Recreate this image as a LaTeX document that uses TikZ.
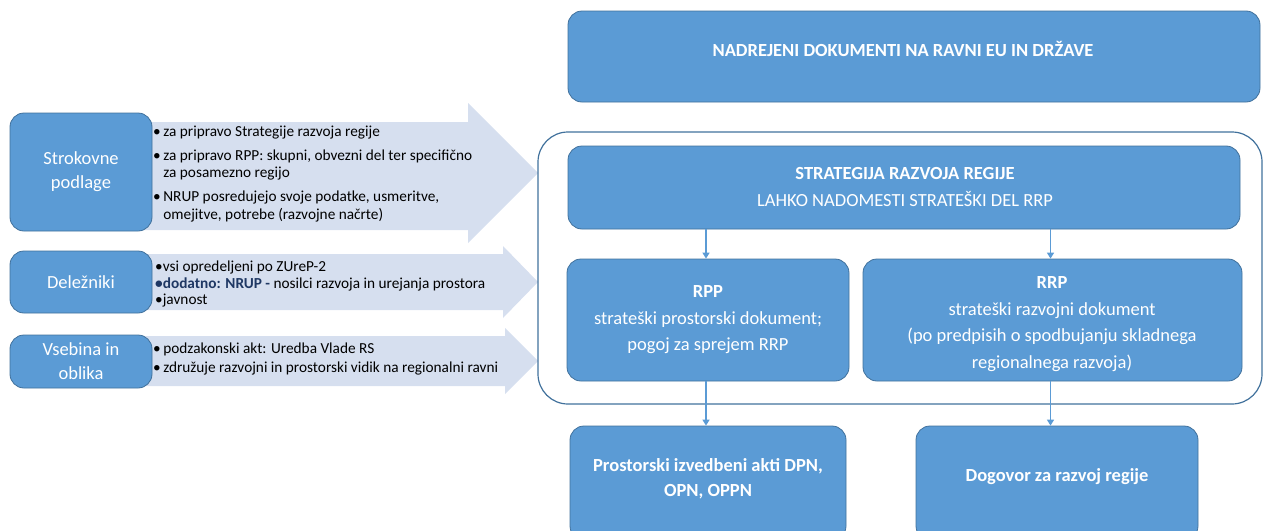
\documentclass[tikz,border=0pt]{standalone}
\usepackage{fontspec}
\setmainfont{Carlito}
\usetikzlibrary{arrows.meta}
\definecolor{boxblue}{HTML}{5B9BD5}
\definecolor{boxline}{HTML}{41719C}
\definecolor{arrowfill}{HTML}{D6DFEF}
\definecolor{navy}{HTML}{1F3864}
\begin{document}
\begin{tikzpicture}[x=1pt,y=-1pt,
  bluebox/.style={draw=boxline, fill=boxblue, line width=0.8pt, rounded corners=14pt, inner sep=0pt},
  sidebox/.style={draw=boxline, fill=boxblue, line width=0.8pt, rounded corners=14pt, inner sep=0pt, minimum width=142pt, text=white, align=center, font=\fontsize{18.5}{24}\selectfont},
  boxtext/.style={text=white, align=center, inner sep=0pt, font=\fontsize{18.5}{26.5}\selectfont},
  boldtext/.style={boxtext, font=\fontsize{18.5}{25}\selectfont\bfseries},
  bigarrow/.style={fill=arrowfill},
  arrowtext/.style={anchor=west, align=left, inner sep=0pt, font=\fontsize{15.3}{17.5}\selectfont},
  conn/.style={draw=boxblue, line width=1.5pt, -{Triangle[width=7pt,length=6pt]}},
  frame/.style={draw=boxline, line width=1.2pt, rounded corners=30pt}
]
\useasboundingbox (0,0) rectangle (1263,530);

% big light arrows
\fill[bigarrow] (140,122) -- (468,122) -- (468,103) -- (538,173) -- (468,243) -- (468,230) -- (140,230) -- cycle;
\fill[bigarrow] (140,254) -- (503,254) -- (503,246) -- (538,282) -- (503,318) -- (503,310) -- (140,310) -- cycle;
\fill[bigarrow] (140,336) -- (505,336) -- (505,328) -- (538,361) -- (505,394) -- (505,386) -- (140,386) -- cycle;

% side boxes
\node[sidebox, minimum height=118pt] (strok) at (81,172) {Strokovne\\podlage};
\node[sidebox, minimum height=62pt] (delez) at (81,282) {Deležniki};
\node[sidebox, minimum height=53pt] (vseb) at (81,361.5) {Vsebina in\\oblika};

% arrow texts
\node[arrowtext] (t1) at (153,174) {%
\textbullet\,za pripravo Strategije razvoja regije\\[6.5pt]
\textbullet\,za pripravo RPP: skupni, obvezni del ter specifično\\
\hphantom{\textbullet\,}za posamezno regijo\\[6.5pt]
\textbullet\,NRUP posredujejo svoje podatke, usmeritve,\\
\hphantom{\textbullet\,}omejitve, potrebe (razvojne načrte)};
\node[arrowtext, font=\fontsize{15.3}{16.8}\selectfont] (t2) at (155,284) {%
\textbullet vsi opredeljeni po ZUreP-2\\
{\color{navy}\bfseries\textbullet dodatno: NRUP -} nosilci razvoja in urejanja prostora\\
\textbullet javnost};
\node[arrowtext, font=\fontsize{15.3}{18.5}\selectfont] (t3) at (153,359) {%
\textbullet\,podzakonski akt: Uredba Vlade RS\\
\textbullet\,združuje razvojni in prostorski vidik na regionalni ravni};

% right side
\node[bluebox, minimum width=692pt, minimum height=91pt] (top) at (914,56.5) {};
\node[boldtext] (toptext) at (903,49) {NADREJENI DOKUMENTI NA RAVNI EU IN DRŽAVE};

\node[frame, minimum width=724pt, minimum height=272pt] (frm) at (900,268) {};

\node[bluebox, minimum width=672pt, minimum height=83pt] (strat) at (904,187.5) {};
\node[boxtext, font=\fontsize{18.5}{27}\selectfont] (strattext) at (905,187) {{\bfseries STRATEGIJA RAZVOJA REGIJE}\\LAHKO NADOMESTI STRATEŠKI DEL RRP};

\node[bluebox, minimum width=282pt, minimum height=122pt] (rpp) at (708,320) {};
\node[boxtext] (rpptext) at (708,320) {{\bfseries RPP}\\strateški prostorski dokument;\\pogoj za sprejem RRP};

\node[bluebox, minimum width=379pt, minimum height=122pt] (rrp) at (1052.5,320) {};
\node[boxtext] (rrptext) at (1052,324) {{\bfseries RRP}\\strateški razvojni dokument\\(po predpisih o spodbujanju skladnega\\regionalnega razvoja)};

\node[bluebox, minimum width=276pt, minimum height=114pt] (izv) at (708,483) {};
\node[boldtext] (izvtext) at (708,479) {Prostorski izvedbeni akti DPN,\\OPN, OPPN};

\node[bluebox, minimum width=282pt, minimum height=114pt] (dog) at (1057,483) {};
\node[boldtext] (dogtext) at (1057,477) {Dogovor za razvoj regije};

% connectors
\draw[conn] (strat.south -| rpp.north) ++(-2,0) coordinate (a1) -- (a1 |- rpp.north);
\draw[conn] (strat.south -| rrp.north) ++(-2,0) coordinate (a2) -- (a2 |- rrp.north);
\draw[conn] (rpp.south) ++(-2,0) coordinate (a3) -- (a3 |- izv.north);
\draw[conn] (rrp.south) ++(-2,0) coordinate (a4) -- (a4 |- dog.north);
\end{tikzpicture}
\end{document}
